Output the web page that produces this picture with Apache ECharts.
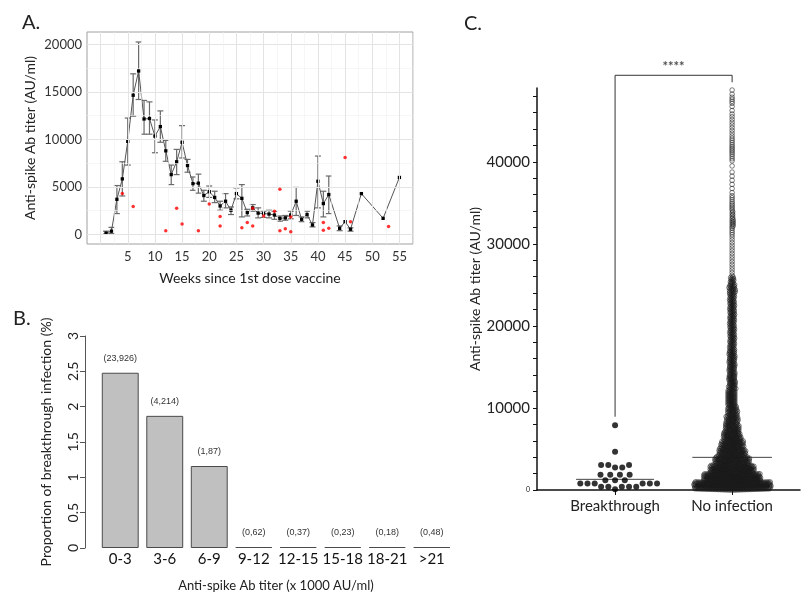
<!DOCTYPE html>
<html><head><meta charset="utf-8">
<script src="https://cdn.jsdelivr.net/npm/echarts@6/dist/echarts.min.js"></script>
<style>html,body{margin:0;padding:0;background:#fff}#c{width:806px;height:595px}</style>
</head><body><div id="c"></div>
<script>
// ---------- Panel A data ----------
const weeks     = [1,2,3,4,5,6,7,8,9,10,11,12,13,14,15,16,17,18,19,20,21,22,23,24,25,26,27,28,29,30,31,32,33,34,35,36,37,38,39,40,41,42,44,45,46,48,52,55];
const meanTiter = [150,350,3700,5850,9800,14650,17200,12150,12200,10350,11350,8800,6300,7650,9700,7250,5350,5400,4100,4500,3900,3000,3500,2550,4300,3800,2300,2800,2250,2200,2150,2050,1700,1750,2050,3500,1600,2100,1000,5600,3250,4200,650,1350,550,4300,1700,6000];
const errHigh   = [350,750,5150,7650,12250,16900,20250,14100,13950,12050,13000,9900,7300,8950,11450,7900,6050,6350,4650,5100,4550,3500,4300,2900,4900,5250,2650,3150,2800,2450,2550,2450,1950,2000,2450,4950,1850,2450,1250,8250,4550,6150,900,null,700,null,null,null];
const errLow    = [50,100,2200,4050,7300,12450,14200,10550,10550,8600,9700,7700,5250,6300,8050,6550,4650,4350,3500,3900,3350,2550,2800,2100,3750,1850,1950,2450,1750,1800,1750,1600,1400,1500,1650,2000,1350,1750,800,2800,1850,2200,400,null,350,null,null,null];
const breakWeeks = [4,6,12,14,15,18,20,22,22,26,27,28,28,30,32,33,33,34,35,35,41,41,42,45,46,53];
const breakTiter = [4300,2950,400,2750,1100,400,3200,1900,900,700,1250,2750,900,1950,2450,4750,400,600,300,1850,1250,450,650,8100,1350,850];
const aXTicks = [5,10,15,20,25,30,35,40,45,50,55];
const aYTicks = [0,5000,10000,15000,20000];

// ---------- Panel B data ----------
const bCategories = ['0-3','3-6','6-9','9-12','12-15','15-18','18-21','>21'];
const bProportion = [2.48,1.87,1.16,0,0,0,0,0];
const bCounts     = ['(23,926)','(4,214)','(1,87)','(0,62)','(0,37)','(0,23)','(0,18)','(0,48)'];

// ---------- Panel C data ----------
const cGroups = ['Breakthrough','No infection'];
const cBreakthrough = [7900,4650,3050,3050,3050,2750,2750,1850,1850,1850,1850,1200,1200,1200,800,800,800,800,800,800,400,400,400,400,400,100];
const cNoInfBinWidth = 1000;
const cNoInfCounts = [312,230,174,128,98,82,65,52,44,36,31,31,27,27,23,23,23,19,19,19,19,19,19,19,23,15,3,3,3,3,3,4,8,6,5,4,2,2,2,1,4,5,4,3,3,3,2,4,2];
const cCenterLines = [1300,3980];
const cYTicks = [0,2000,4000,6000,8000,10000,12000,14000,16000,18000,20000,22000,24000,26000,28000,30000,32000,34000,36000,38000,40000,42000,44000,46000,48000];
const cYLabels = [0,10000,20000,30000,40000];

const F = 'Lato, "Open Sans", sans-serif';

// layout constants for C
const C_LEFT = 537, C_TOP = 88, C_W = 263, C_H = 402;
const C_XMIN = 0.333, C_XMAX = 2.58, C_YMAX = 49000;
const pxX = C_W / (C_XMAX - C_XMIN), pxY = C_H / C_YMAX;

function beeswarm(values, delta) {
  const sorted = values.slice().sort((a, b) => a - b);
  const placed = [];
  for (const v of sorted) {
    const y = v * pxY;
    const nb = [];
    for (let i = placed.length - 1; i >= 0; i--) {
      if (y - placed[i].y >= delta) break;
      nb.push(placed[i]);
    }
    const cands = [0];
    for (const p of nb) {
      const dy = y - p.y;
      const dx = Math.sqrt(Math.max(0, delta * delta - dy * dy));
      cands.push(p.x + dx + 1e-6, p.x - dx - 1e-6);
    }
    cands.sort((a, b) => Math.abs(a) - Math.abs(b) || b - a);
    let x = 0;
    for (const c of cands) {
      let ok = true;
      for (const p of nb) {
        const dx = c - p.x, dy = y - p.y;
        if (dx * dx + dy * dy < delta * delta - 1e-4) { ok = false; break; }
      }
      if (ok) { x = c; break; }
    }
    placed.push({ x, y, v });
  }
  return placed;
}

const noInfValues = [];
cNoInfCounts.forEach((n, i) => {
  for (let k = 0; k < n; k++) noInfValues.push(i * cNoInfBinWidth + (k + 0.5) * cNoInfBinWidth / n);
});
const btSwarm = beeswarm(cBreakthrough, 7.2).map(p => [1 + p.x / pxX, p.v]);
const niSwarm = beeswarm(noInfValues, 1.5).map(p => [2 + p.x / pxX, p.v]);

// gridlines for A
const aGridLines = [];
for (let v = 0; v <= 20000; v += 2500) aGridLines.push({ yAxis: v, lineStyle: { color: v % 5000 === 0 ? '#e3e3e3' : '#f0f0f0', width: v % 5000 === 0 ? 1 : 0.6, type: 'solid' } });
for (let w = 0; w <= 57.5; w += 2.5) aGridLines.push({ xAxis: w, lineStyle: { color: w % 5 === 0 ? '#e3e3e3' : '#f0f0f0', width: w % 5 === 0 ? 1 : 0.6, type: 'solid' } });

const errData = [];
weeks.forEach((w, i) => { if (errLow[i] != null) errData.push([w, errLow[i], errHigh[i]]); });

const chart = echarts.init(document.getElementById('c'), null, { renderer: 'canvas' });
chart.setOption({
  animation: false,
  backgroundColor: '#fff',
  textStyle: { fontFamily: F },
  title: [
    { text: 'A.', left: 17, top: 8, textStyle: { fontSize: 20, fontWeight: 'normal', color: '#222', fontFamily: F } },
    { text: 'B.', left: 8, top: 304, textStyle: { fontSize: 20, fontWeight: 'normal', color: '#222', fontFamily: F } },
    { text: 'C.', left: 459, top: 9, textStyle: { fontSize: 20, fontWeight: 'normal', color: '#222', fontFamily: F } }
  ],
  grid: [
    { left: 87, top: 32, width: 326, height: 212, show: true, borderColor: '#a0a0a0', borderWidth: 1, backgroundColor: '#fff' },
    { left: 98, top: 336, width: 356, height: 212 },
    { left: C_LEFT, top: C_TOP, width: C_W, height: C_H }
  ],
  xAxis: [
    { gridIndex: 0, type: 'value', min: -2.5, max: 57.5,
      axisLine: { show: false }, splitLine: { show: false },
      axisTick: { show: true, customValues: aXTicks, length: 3, lineStyle: { color: '#888' } },
      axisLabel: { customValues: aXTicks, color: '#333', fontSize: 13, margin: 6, fontFamily: F, formatter: v => String(v) },
      name: 'Weeks since 1st dose vaccine', nameLocation: 'middle', nameGap: 27,
      nameTextStyle: { fontSize: 14, color: '#222', fontFamily: F } },
    { gridIndex: 1, type: 'category', data: bCategories,
      axisLine: { show: false }, axisTick: { show: false },
      axisLabel: { interval: 0, fontSize: 15, color: '#111', margin: 4, fontFamily: F },
      name: 'Anti-spike Ab titer (x 1000 AU/ml)', nameLocation: 'middle', nameGap: 31,
      nameTextStyle: { fontSize: 13, color: '#222', fontFamily: F } },
    { gridIndex: 2, type: 'value', min: C_XMIN, max: C_XMAX, splitLine: { show: false },
      axisLine: { show: true, lineStyle: { color: '#111', width: 1.5 } },
      axisTick: { show: true, customValues: [1, 2], length: 5, lineStyle: { color: '#111' } },
      axisLabel: { customValues: [1, 2], formatter: v => cGroups[Math.round(v) - 1], fontSize: 15, color: '#222', margin: 9, fontFamily: F } }
  ],
  yAxis: [
    { gridIndex: 0, type: 'value', min: -1000, max: 21300,
      axisLine: { show: false }, splitLine: { show: false },
      axisTick: { show: true, customValues: aYTicks, length: 3, lineStyle: { color: '#888' } },
      axisLabel: { customValues: aYTicks, color: '#333', fontSize: 13, margin: 5, fontFamily: F, formatter: v => String(v) },
      name: 'Anti-spike Ab titer (AU/ml)', nameLocation: 'middle', nameGap: 50,
      nameTextStyle: { fontSize: 14, color: '#222', fontFamily: F } },
    { gridIndex: 1, type: 'value', min: 0, max: 3, interval: 0.5, offset: 13,
      axisLine: { show: true, lineStyle: { color: '#555' } },
      axisTick: { show: true, length: 5, lineStyle: { color: '#555' } },
      axisLabel: { rotate: 90, fontSize: 14, color: '#222', margin: 5, fontFamily: F },
      splitLine: { show: false },
      name: 'Proportion of breakthrough infection (%)', nameLocation: 'middle', nameGap: 32,
      nameTextStyle: { fontSize: 14, color: '#222', fontFamily: F } },
    { gridIndex: 2, type: 'value', min: 0, max: C_YMAX,
      axisLine: { show: true, lineStyle: { color: '#111', width: 1.5 } },
      axisTick: { show: true, customValues: cYTicks, length: 4, lineStyle: { color: '#111' } },
      axisLabel: { customValues: cYLabels, fontSize: 15, color: '#222', margin: 7, fontFamily: F,
        formatter: v => v === 0 ? '{s|0}' : String(v), rich: { s: { fontSize: 7, color: '#222' } } },
      splitLine: { show: false },
      name: 'Anti-spike Ab titer (AU/ml)', nameLocation: 'middle', nameGap: 33,
      nameTextStyle: { fontSize: 14, color: '#222', fontFamily: F } }
  ],
  series: [
    { type: 'line', xAxisIndex: 0, yAxisIndex: 0, data: [[-10, -10000]], symbol: 'none', silent: true, z: 1,
      markLine: { silent: true, symbol: ['none', 'none'], label: { show: false }, animation: false, data: aGridLines } },
    { type: 'custom', xAxisIndex: 0, yAxisIndex: 0, z: 3, data: errData,
      renderItem: (params, api) => {
        const x = api.value(0);
        const pLo = api.coord([x, api.value(1)]), pHi = api.coord([x, api.value(2)]);
        const w = 3, st = { stroke: '#6a6a6a', lineWidth: 1.2 };
        return { type: 'group', children: [
          { type: 'line', shape: { x1: pLo[0], y1: pLo[1], x2: pHi[0], y2: pHi[1] }, style: st },
          { type: 'line', shape: { x1: pLo[0] - w, y1: pLo[1], x2: pLo[0] + w, y2: pLo[1] }, style: st },
          { type: 'line', shape: { x1: pHi[0] - w, y1: pHi[1], x2: pHi[0] + w, y2: pHi[1] }, style: st }
        ] };
      } },
    { type: 'line', xAxisIndex: 0, yAxisIndex: 0, z: 4, data: weeks.map((w, i) => [w, meanTiter[i]]),
      symbol: 'rect', symbolSize: 3.3, itemStyle: { color: '#000' }, lineStyle: { color: '#555', width: 1 } },
    { type: 'scatter', xAxisIndex: 0, yAxisIndex: 0, z: 5, data: breakWeeks.map((w, i) => [w, breakTiter[i]]),
      symbol: 'circle', symbolSize: 3.5, itemStyle: { color: '#ff0000' } },
    { type: 'bar', xAxisIndex: 1, yAxisIndex: 1, data: bProportion, barCategoryGap: '17%', barMinHeight: 1,
      itemStyle: { color: '#c0c0c0', borderColor: '#4a4a4a', borderWidth: 1 },
      label: { show: true, position: 'top', distance: 10, fontSize: 9, color: '#333', fontFamily: 'Liberation Sans, Arial, sans-serif',
        formatter: p => bCounts[p.dataIndex] } },
    { type: 'line', xAxisIndex: 2, yAxisIndex: 2, z: 2, symbol: 'none', lineStyle: { color: '#444', width: 1 },
      data: [[1 - 0.333, cCenterLines[0]], [1 + 0.333, cCenterLines[0]]] },
    { type: 'line', xAxisIndex: 2, yAxisIndex: 2, z: 2, symbol: 'none', lineStyle: { color: '#444', width: 1 },
      data: [[2 - 0.34, cCenterLines[1]], [2 + 0.34, cCenterLines[1]]] },
    { type: 'scatter', xAxisIndex: 2, yAxisIndex: 2, z: 4, data: btSwarm, symbol: 'circle', symbolSize: 6,
      itemStyle: { color: '#000' }, large: false, progressive: 0 },
    { type: 'scatter', xAxisIndex: 2, yAxisIndex: 2, z: 3, data: niSwarm, symbol: 'circle', symbolSize: 4.6,
      itemStyle: { color: 'rgba(255,255,255,0)', borderColor: '#1a1a1a', borderWidth: 0.7 }, large: false, progressive: 0, clip: false },
    { type: 'line', xAxisIndex: 2, yAxisIndex: 2, z: 2, symbol: 'none', clip: false, lineStyle: { color: '#333', width: 1 },
      data: [[1, 8930], [1, 50550], [2, 50550], [2, 49700]] },
    { type: 'scatter', xAxisIndex: 2, yAxisIndex: 2, clip: false, symbolSize: 1, itemStyle: { color: 'rgba(0,0,0,0)' },
      data: [[1.5, 50550]],
      label: { show: true, position: 'top', distance: 1, formatter: '****', fontSize: 13, fontWeight: 'bold', color: '#222', fontFamily: F } }
  ]
});
</script></body></html>
